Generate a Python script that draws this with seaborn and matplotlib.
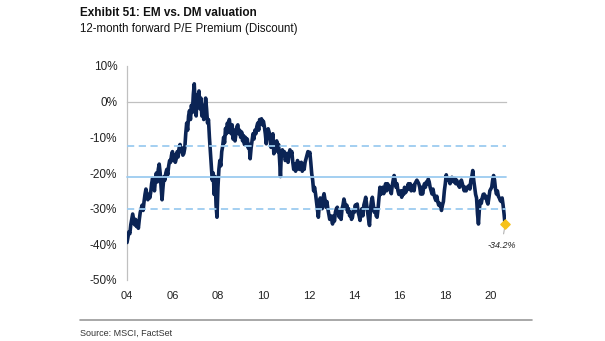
import numpy as np
import pandas as pd
import matplotlib
matplotlib.use("Agg")
import matplotlib.pyplot as plt
import seaborn as sns

# ---- data (semi-monthly readings, % premium/discount) ----
y2004 = [-39.5,-38,-36.5,-37,-34.5,-33,-31.5,-33,-34.5,-33,-35,-34,-35.5,-33,-31,-30,-29,-30.5,-28,-26,-24.5,-26,-27.5,-26]
y2005 = [-27,-25.5,-23,-21.5,-23.5,-25,-22,-20,-22.5,-19,-17.5,-20,-24,-27.5,-24,-21,-22,-20,-19,-20.5,-18,-16.5,-17,-15]
y2006 = [-14,-16.5,-15,-17,-16,-14,-15.5,-13,-12,-14,-13,-15,-14.5,-13,-9,-6,-8,-4,-2.5,-5,-1,-3,2,5]
y2007 = [-1,-4,2,0,3,-2,1,-4,-1,-5,-3,1,-2,-6,-5,-10,-14,-18,-22,-20,-26,-21,-29,-32.4]
y2008 = [-24,-19,-16.5,-18,-14,-12.5,-10,-11.5,-7.5,-9,-6,-8.5,-5,-7,-9,-6.5,-10.5,-8,-11,-9,-7,-6.5,-9,-8]
y2009 = [-10,-8.5,-11,-9.5,-12,-10,-11.5,-10.5,-13,-12,-16,-13,-11,-9,-10.5,-8,-9,-7,-6,-8,-5,-6,-4.8,-6.5]
y2010 = [-5.5,-7,-9,-11.8,-9,-7.6,-8.5,-10,-12.8,-11,-9,-14.6,-12,-13,-11,-14,-12,-16,-21,-14,-13.5,-15,-14,-16.5]
y2011 = [-16,-14.5,-17,-15,-13.5,-15,-14,-17,-19,-17.5,-19.5,-18,-16.5,-17.5,-19,-18,-17,-19.5,-17.5,-19,-17,-16,-15,-14]
y2012 = [-15,-14.2,-17,-20.2,-22,-25,-24,-25.8,-28,-30,-32.4,-29,-27,-28,-30,-27,-25.8,-27.5,-29.6,-28,-30,-31.5,-33,-32]
y2013 = [-33,-34.3,-32,-33.5,-31,-30,-29.6,-31,-32.4,-31,-33,-30,-29,-27.3,-28.5,-30,-29,-31,-30,-32,-31,-33,-32.4,-30.5]
y2014 = [-31,-29,-30,-28.7,-31,-32,-33.3,-31,-30,-32,-29,-28,-26.8,-29,-31,-33,-34.7,-30,-28,-26.8,-29,-31,-30,-32]
y2015 = [-32.4,-30,-27,-24,-26,-25,-24,-25.8,-24.5,-23,-25,-23,-23.5,-24,-25,-25.8,-23.5,-22,-20.7,-22,-24,-23,-25,-26]
y2016 = [-26,-25,-26.8,-25,-26,-24,-25.5,-25,-24,-23,-24.5,-23,-25,-24,-23.5,-25,-23,-22.5,-22,-22.5,-23,-24,-25.9,-24]
y2017 = [-25.9,-24.5,-23,-24,-22.5,-23,-21.7,-22.5,-24,-25,-25.9,-24.5,-26,-27,-27.7,-26.5,-28,-29,-28.5,-29.5,-30.5,-29,-28,-25]
y2018 = [-23,-20.5,-22,-21.5,-22.1,-23,-22,-21.2,-22,-22.5,-21.5,-23,-22,-23,-23.5,-24,-22.5,-22,-23,-24,-25,-24,-25,-24]
y2019 = [-24,-23.5,-24.5,-22,-21,-19.3,-22,-24,-26,-27,-31.5,-34.3,-30,-27.7,-28.5,-27,-26,-25.9,-27,-26.5,-28,-28.7,-27,-25]
y2020 = [-24.5,-24,-22,-20.7,-22,-24.5,-25.9,-25,-26.5,-27,-27.7,-28,-27,-29,-31.4,-34.2]

start_year = 2004
periods_per_year = 24
avg_level = -21.2
upper_band = -12.4
lower_band = -30.0
xtick_years = [2004, 2006, 2008, 2010, 2012, 2014, 2016, 2018, 2020]
xtick_labels = ["04", "06", "08", "10", "12", "14", "16", "18", "20"]
ytick_vals = [10, 0, -10, -20, -30, -40, -50]

values = (y2004 + y2005 + y2006 + y2007 + y2008 + y2009 + y2010 + y2011 + y2012
          + y2013 + y2014 + y2015 + y2016 + y2017 + y2018 + y2019 + y2020)
t = start_year + np.arange(len(values)) / periods_per_year
df = pd.DataFrame({"t": t, "v": values})

# ---- style ----
sns.set_theme(style="white")
plt.rcParams["font.family"] = ["Liberation Sans", "DejaVu Sans"]

NAVY = "#0b2455"
LBLUE = "#9ccbf0"
GRAY = "#c0c0c0"
TXT = "#222222"

fig = plt.figure(figsize=(6.05, 3.41), dpi=100)
ax = fig.add_axes([127/605, 1-280/341, (506-127)/605, (280-66)/341])

sns.lineplot(data=df, x="t", y="v", ax=ax, color=NAVY, lw=2.6, zorder=3)

for lvl, ls in [(avg_level, "-"), (upper_band, (0, (4, 2.5))), (lower_band, (0, (4, 2.5)))]:
    ax.axhline(lvl, color=LBLUE, lw=1.3, ls=ls, zorder=4, clip_on=False)

# last point marker + label
lt, lv = df["t"].iloc[-1], df["v"].iloc[-1]
ax.scatter([lt], [lv], marker="D", s=22, color="#f6c21a", zorder=6, clip_on=False)
ax.annotate(f"{lv:.1f}%", xy=(lt, lv), xytext=(-2, -16), textcoords="offset points",
            ha="center", va="center", fontsize=6.5, style="italic", color=TXT,
            arrowprops=dict(arrowstyle="-", color="#999999", lw=0.6, shrinkA=3, shrinkB=2))

ax.set_xlim(start_year, 2020.67)
ax.set_ylim(-50, 10)
ax.set_yticks(ytick_vals)
ax.set_yticklabels([f"{v}%" for v in ytick_vals], fontsize=8.5, color=TXT)
ax.tick_params(axis="y", direction="out", length=3.5, width=0.8, color=GRAY, pad=3.5)
ax.set_xlabel("")
ax.set_ylabel("")

for s in ["top", "right"]:
    ax.spines[s].set_visible(False)
ax.spines["left"].set_color(GRAY)
ax.spines["left"].set_linewidth(0.9)
ax.spines["bottom"].set_position(("data", 0))
ax.spines["bottom"].set_color(GRAY)
ax.spines["bottom"].set_linewidth(0.9)
ax.spines["bottom"].set_zorder(2)
ax.set_xticks(xtick_years)
ax.tick_params(axis="x", direction="out", length=2.5, width=0.8, color=GRAY, labelbottom=False)

sec = ax.secondary_xaxis("bottom")
sec.set_xticks(xtick_years)
sec.set_xticklabels(xtick_labels, fontsize=8, color=TXT)
sec.tick_params(length=0, pad=8)
sec.spines["bottom"].set_visible(False)

# titles and source
fig.text(80/605, 1-13/341, "Exhibit 51: EM vs. DM valuation", fontsize=8.5,
         fontweight="bold", color="#111111", va="center", ha="left")
fig.text(80/605, 1-29/341, "12-month forward P/E Premium (Discount)", fontsize=8.3,
         color="#111111", va="center", ha="left")
fig.add_artist(plt.Line2D([80/605, 532/605], [1-320/341, 1-320/341], color="#9a9a9a", lw=1.2))
fig.text(80/605, 1-333/341, "Source: MSCI, FactSet", fontsize=6.5, color="#333333",
         va="center", ha="left")

fig.savefig("out.png", dpi=100)
